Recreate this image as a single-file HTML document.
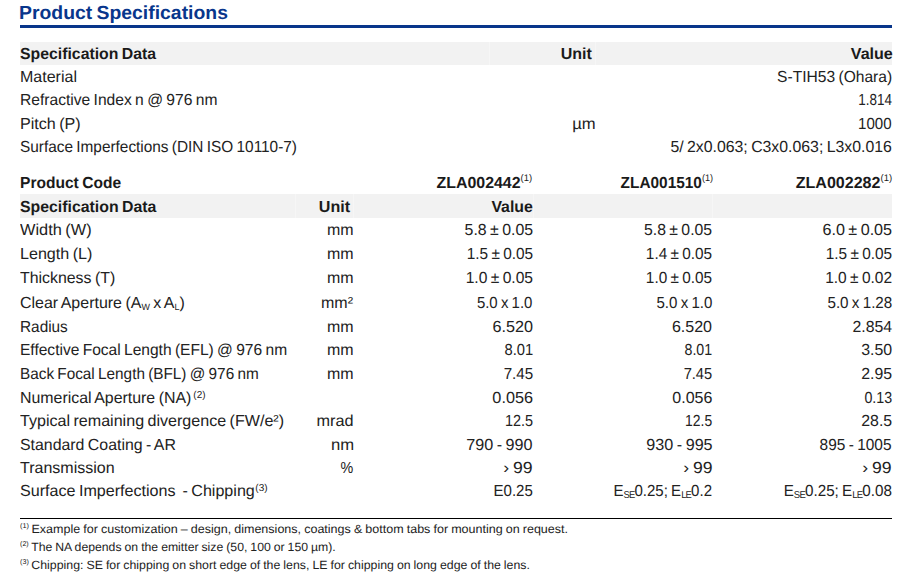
<!DOCTYPE html>
<html><head><meta charset="utf-8">
<style>
html,body{margin:0;padding:0;background:#fff;width:915px;height:579px;overflow:hidden;}
body{position:relative;font-family:"Liberation Sans",sans-serif;color:#222;text-rendering:geometricPrecision;}
.t{position:absolute;white-space:nowrap;line-height:1;font-size:16px;word-spacing:-1px;}
.b{font-weight:bold;color:#1a1a1a;}
.title{font-size:19px;font-weight:bold;color:#08368c;}
.fn{font-size:12px;word-spacing:-0.4px;}
.bl{position:absolute;left:20px;width:872px;top:25px;height:3px;background:#08358a;}
.gray{position:absolute;left:20px;width:872px;background:#f2f2f2;}
.hr{position:absolute;left:20px;width:872px;top:518px;height:1px;background:#000;}
.sm{position:absolute;width:1px;background:#f6f6f6;}
sup{font-size:9.5px;font-weight:normal;line-height:0;vertical-align:0;position:relative;top:-7px;}
sup.sp{margin-left:2px;top:-5px;font-size:10px;}
sup.sp0{margin-left:0.5px;}
sub{font-size:10px;letter-spacing:-0.8px;line-height:0;vertical-align:0;position:relative;top:1.5px;}
sub.sa{font-size:9px;top:2px;letter-spacing:0;}
.fn sup{font-size:7px;top:-5.5px;display:inline-block;width:11px;color:#111;}
</style></head><body>
<div class="bl"></div>
<div class="gray" style="top:42px;height:23px"></div>
<div class="gray" style="top:194px;height:24px"></div>
<div class="hr"></div>
<div class="sm" style="left:489px;top:42px;height:23px"></div>
<div class="sm" style="left:595px;top:42px;height:23px"></div>
<div class="sm" style="left:295px;top:194px;height:24px"></div>
<div class="sm" style="left:353px;top:194px;height:24px"></div>
<div class="sm" style="left:533px;top:194px;height:24px"></div>
<div class="sm" style="left:712px;top:194px;height:24px"></div>
<div id="e0" class="t title" style="left:19.35px;top:4.00px;transform:scaleX(1.0197);transform-origin:left">Product Specifications</div>
<div id="e1" class="t b" style="left:20.00px;top:47.00px;transform:scaleX(0.9881);transform-origin:left">Specification Data</div>
<div id="e2" class="t b" style="right:323.20px;top:47.00px">Unit</div>
<div id="e3" class="t b" style="right:22.42px;top:47.00px;transform:scaleX(1.0036);transform-origin:right">Value</div>
<div id="e4" class="t n" style="left:20.00px;top:70.00px;transform:scaleX(1.0011);transform-origin:left">Material</div>
<div id="e5" class="t n" style="right:23.00px;top:70.00px;transform:scaleX(0.9737);transform-origin:right">S-TIH53 (Ohara)</div>
<div id="e6" class="t n" style="left:20.00px;top:93.00px;transform:scaleX(0.9751);transform-origin:left">Refractive Index n @ 976 nm</div>
<div id="e7" class="t n" style="right:23.00px;top:93.00px;transform:scaleX(0.8410);transform-origin:right">1.814</div>
<div id="e8" class="t n" style="left:20.00px;top:117.00px;transform:scaleX(1.0056);transform-origin:left">Pitch (P)</div>
<div id="e9" class="t n" style="right:318.97px;top:117.00px;transform:scaleX(1.0385);transform-origin:right">µm</div>
<div id="e10" class="t n" style="right:23.00px;top:117.00px;transform:scaleX(0.9415);transform-origin:right">1000</div>
<div id="e11" class="t n" style="left:20.00px;top:140.00px;transform:scaleX(0.9607);transform-origin:left">Surface Imperfections (DIN ISO 10110-7)</div>
<div id="e12" class="t n" style="right:23.00px;top:140.00px;transform:scaleX(0.9893);transform-origin:right">5/ 2x0.063; C3x0.063; L3x0.016</div>
<div id="e13" class="t b" style="left:20.00px;top:176.00px;transform:scaleX(0.9727);transform-origin:left">Product Code</div>
<div id="e14" class="t b" style="right:382.42px;top:176.00px;transform:scaleX(0.9948);transform-origin:right">ZLA002442<sup>(1)</sup></div>
<div id="e15" class="t b" style="right:201.91px;top:176.00px;transform:scaleX(0.9630);transform-origin:right">ZLA001510<sup>(1)</sup></div>
<div id="e16" class="t b" style="right:22.75px;top:176.00px;transform:scaleX(1.0033);transform-origin:right">ZLA002282<sup>(1)</sup></div>
<div id="e17" class="t b" style="left:20.00px;top:200.00px;transform:scaleX(0.9899);transform-origin:left">Specification Data</div>
<div id="e18" class="t b" style="right:564.92px;top:200.00px;transform:scaleX(1.0054);transform-origin:right">Unit</div>
<div id="e19" class="t b" style="right:381.93px;top:200.00px;transform:scaleX(0.9898);transform-origin:right">Value</div>
<div id="e20" class="t n" style="left:20.00px;top:223.00px;transform:scaleX(1.0215);transform-origin:left">Width (W)</div>
<div id="e21" class="t n" style="right:561.37px;top:223.00px;transform:scaleX(0.9981);transform-origin:right">mm</div>
<div id="e22" class="t n" style="right:382.20px;top:223.00px;transform:scaleX(0.9918);transform-origin:right">5.8 ± 0.05</div>
<div id="e23" class="t n" style="right:202.60px;top:223.00px;transform:scaleX(0.9856);transform-origin:right">5.8 ± 0.05</div>
<div id="e24" class="t n" style="right:23.00px;top:223.00px;transform:scaleX(1.0084);transform-origin:right">6.0 ± 0.05</div>
<div id="e25" class="t n" style="left:20.00px;top:247.00px;transform:scaleX(1.0056);transform-origin:left">Length (L)</div>
<div id="e26" class="t n" style="right:561.37px;top:247.00px;transform:scaleX(0.9981);transform-origin:right">mm</div>
<div id="e27" class="t n" style="right:382.20px;top:247.00px;transform:scaleX(0.9608);transform-origin:right">1.5 ± 0.05</div>
<div id="e28" class="t n" style="right:202.60px;top:247.00px;transform:scaleX(0.9584);transform-origin:right">1.4 ± 0.05</div>
<div id="e29" class="t n" style="right:23.00px;top:247.00px;transform:scaleX(0.9598);transform-origin:right">1.5 ± 0.05</div>
<div id="e30" class="t n" style="left:20.00px;top:271.00px;transform:scaleX(0.9928);transform-origin:left">Thickness (T)</div>
<div id="e31" class="t n" style="right:561.37px;top:271.00px;transform:scaleX(0.9981);transform-origin:right">mm</div>
<div id="e32" class="t n" style="right:382.20px;top:271.00px;transform:scaleX(0.9756);transform-origin:right">1.0 ± 0.05</div>
<div id="e33" class="t n" style="right:202.60px;top:271.00px;transform:scaleX(0.9584);transform-origin:right">1.0 ± 0.05</div>
<div id="e34" class="t n" style="right:23.00px;top:271.00px;transform:scaleX(0.9687);transform-origin:right">1.0 ± 0.02</div>
<div id="e35" class="t n" style="left:20.00px;top:296.00px;transform:scaleX(0.9981);transform-origin:left">Clear Aperture (A<sub class='sa'>W</sub> x A<sub class='sa'>L</sub>)</div>
<div id="e36" class="t n" style="right:562.00px;top:296.00px">mm²</div>
<div id="e37" class="t n" style="right:382.20px;top:296.00px;transform:scaleX(0.9345);transform-origin:right">5.0 x 1.0</div>
<div id="e38" class="t n" style="right:202.60px;top:296.00px;transform:scaleX(0.9411);transform-origin:right">5.0 x 1.0</div>
<div id="e39" class="t n" style="right:23.00px;top:296.00px;transform:scaleX(0.9496);transform-origin:right">5.0 x 1.28</div>
<div id="e40" class="t n" style="left:20.00px;top:320.00px;transform:scaleX(0.9596);transform-origin:left">Radius</div>
<div id="e41" class="t n" style="right:561.37px;top:320.00px;transform:scaleX(0.9981);transform-origin:right">mm</div>
<div id="e42" class="t n" style="right:382.20px;top:320.00px;transform:scaleX(1.0109);transform-origin:right">6.520</div>
<div id="e43" class="t n" style="right:202.60px;top:320.00px;transform:scaleX(1.0028);transform-origin:right">6.520</div>
<div id="e44" class="t n" style="right:23.00px;top:320.00px;transform:scaleX(0.9887);transform-origin:right">2.854</div>
<div id="e45" class="t n" style="left:20.00px;top:343.00px;transform:scaleX(0.9713);transform-origin:left">Effective Focal Length (EFL) @ 976 nm</div>
<div id="e46" class="t n" style="right:561.37px;top:343.00px;transform:scaleX(0.9981);transform-origin:right">mm</div>
<div id="e47" class="t n" style="right:382.20px;top:343.00px;transform:scaleX(0.9196);transform-origin:right">8.01</div>
<div id="e48" class="t n" style="right:202.60px;top:343.00px;transform:scaleX(0.8866);transform-origin:right">8.01</div>
<div id="e49" class="t n" style="right:23.00px;top:343.00px;transform:scaleX(0.9937);transform-origin:right">3.50</div>
<div id="e50" class="t n" style="left:20.00px;top:367.00px;transform:scaleX(0.9569);transform-origin:left">Back Focal Length (BFL) @ 976 nm</div>
<div id="e51" class="t n" style="right:561.37px;top:367.00px;transform:scaleX(0.9981);transform-origin:right">mm</div>
<div id="e52" class="t n" style="right:382.20px;top:367.00px;transform:scaleX(0.9459);transform-origin:right">7.45</div>
<div id="e53" class="t n" style="right:202.60px;top:367.00px;transform:scaleX(0.9151);transform-origin:right">7.45</div>
<div id="e54" class="t n" style="right:23.00px;top:367.00px;transform:scaleX(0.9910);transform-origin:right">2.95</div>
<div id="e55" class="t n" style="left:20.00px;top:391.00px;transform:scaleX(0.9946);transform-origin:left">Numerical Aperture (NA)<sup class='sp'>(2)</sup></div>
<div id="e56" class="t n" style="right:382.20px;top:391.00px;transform:scaleX(1.0158);transform-origin:right">0.056</div>
<div id="e57" class="t n" style="right:202.60px;top:391.00px">0.056</div>
<div id="e58" class="t n" style="right:23.00px;top:391.00px;transform:scaleX(0.8888);transform-origin:right">0.13</div>
<div id="e59" class="t n" style="left:20.00px;top:414.00px;transform:scaleX(1.0046);transform-origin:left">Typical remaining divergence (FW/e²)</div>
<div id="e60" class="t n" style="right:561.09px;top:414.00px;transform:scaleX(1.0155);transform-origin:right">mrad</div>
<div id="e61" class="t n" style="right:382.20px;top:414.00px;transform:scaleX(0.9021);transform-origin:right">12.5</div>
<div id="e62" class="t n" style="right:202.60px;top:414.00px;transform:scaleX(0.8681);transform-origin:right">12.5</div>
<div id="e63" class="t n" style="right:23.00px;top:414.00px;transform:scaleX(0.9910);transform-origin:right">28.5</div>
<div id="e64" class="t n" style="left:20.00px;top:438.00px;transform:scaleX(0.9925);transform-origin:left">Standard Coating - AR</div>
<div id="e65" class="t n" style="right:560.79px;top:438.00px;transform:scaleX(1.0402);transform-origin:right">nm</div>
<div id="e66" class="t n" style="right:382.20px;top:438.00px;transform:scaleX(1.0109);transform-origin:right">790 - 990</div>
<div id="e67" class="t n" style="right:202.60px;top:438.00px;transform:scaleX(1.0099);transform-origin:right">930 - 995</div>
<div id="e68" class="t n" style="right:23.00px;top:438.00px;transform:scaleX(0.9650);transform-origin:right">895 - 1005</div>
<div id="e69" class="t n" style="left:20.00px;top:461.00px">Transmission</div>
<div id="e70" class="t n" style="right:562.13px;top:461.00px;transform:scaleX(0.8955);transform-origin:right">%</div>
<div id="e71" class="t n" style="right:382.20px;top:461.00px;transform:scaleX(1.1032);transform-origin:right">› 99</div>
<div id="e72" class="t n" style="right:202.60px;top:461.00px;transform:scaleX(1.1001);transform-origin:right">› 99</div>
<div id="e73" class="t n" style="right:23.00px;top:461.00px;transform:scaleX(1.1030);transform-origin:right">› 99</div>
<div id="e74" class="t n" style="left:20.00px;top:484.00px;transform:scaleX(1.0057);transform-origin:left">Surface Imperfections &nbsp;- Chipping<sup class='sp sp0'>(3)</sup></div>
<div id="e75" class="t n" style="right:382.20px;top:484.00px;transform:scaleX(0.9398);transform-origin:right">E0.25</div>
<div id="e76" class="t n" style="right:202.60px;top:484.00px;transform:scaleX(0.9390);transform-origin:right">E<sub>SE</sub>0.25; E<sub>LE</sub>0.2</div>
<div id="e77" class="t n" style="right:23.00px;top:484.00px;transform:scaleX(0.9500);transform-origin:right">E<sub>SE</sub>0.25; E<sub>LE</sub>0.08</div>
<div id="e78" class="t fn" style="left:20.00px;top:523.00px;transform:scaleX(1.0444);transform-origin:left"><sup>(1)</sup>Example for customization – design, dimensions, coatings &amp; bottom tabs for mounting on request.</div>
<div id="e79" class="t fn" style="left:20.00px;top:541.00px;transform:scaleX(1.0195);transform-origin:left"><sup>(2)</sup>The NA depends on the emitter size (50, 100 or 150 µm).</div>
<div id="e80" class="t fn" style="left:20.00px;top:559.00px;transform:scaleX(1.0278);transform-origin:left"><sup>(3)</sup>Chipping: SE for chipping on short edge of the lens, LE for chipping on long edge of the lens.</div>
</body></html>
